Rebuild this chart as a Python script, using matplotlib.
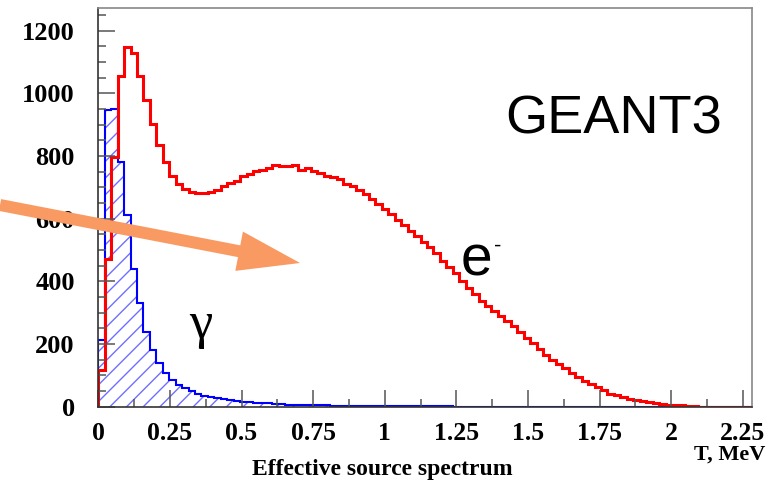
import numpy as np
import matplotlib
matplotlib.use("Agg")
import matplotlib.pyplot as plt
from matplotlib.patches import FancyArrow
from matplotlib.transforms import IdentityTransform

plt.rcParams['font.family'] = ['Liberation Serif', 'DejaVu Serif']
plt.rcParams['hatch.linewidth'] = 1.0

# histogram binning (MeV)
bin_width = 0.0225
n_bins = 102

# electron spectrum (red), counts per bin
electrons = [118, 470, 798, 1055, 1147, 1128, 1054, 979, 902, 836,
             782, 737, 710, 694, 686, 681, 681, 686, 692, 703,
             713, 719, 735, 742, 751, 756, 761, 772, 769, 769,
             772, 756, 761, 751, 745, 735, 733, 728, 712, 703,
             690, 677, 662, 648, 630, 614, 597, 580, 561, 544,
             526, 508, 490, 466, 445, 426, 400, 380, 358, 338,
             322, 305, 288, 272, 256, 238, 220, 202, 184, 166,
             150, 136, 122, 108, 94, 82, 72, 62, 52, 42,
             36, 30, 26, 22, 18, 15, 12, 9, 7, 5,
             4, 3, 1, 0, 0, 0, 0, 0, 0, 0,
             0, 0]

# gamma spectrum (blue, hatched)
gammas = [214, 945, 950, 782, 610, 440, 330, 238, 182, 139,
          107, 86, 70, 60, 49, 40, 35, 31, 27, 23,
          20, 17, 15, 14, 13, 12, 11, 9, 8, 7,
          6, 6, 5, 4, 4, 4, 3, 3, 3, 2,
          2, 2, 2, 2, 2, 2, 1, 1, 1, 1,
          1, 1, 1, 1, 1, 0, 0, 0, 0, 0,
          0, 0, 0, 0, 0, 0, 0, 0, 0, 0,
          0, 0, 0, 0, 0, 0, 0, 0, 0, 0,
          0, 0, 0, 0, 0, 0, 0, 0, 0, 0,
          0, 0, 0, 0, 0, 0, 0, 0, 0, 0,
          0, 0]

xticks = [0, 0.25, 0.5, 0.75, 1, 1.25, 1.5, 1.75, 2, 2.25]
xtick_labels = ["0", "0.25", "0.5", "0.75", "1", "1.25", "1.5", "1.75", "2", "2.25"]
yticks = [0, 200, 400, 600, 800, 1000, 1200]

edges = np.arange(n_bins + 1) * bin_width

fig = plt.figure(figsize=(7.8, 4.9), dpi=100)
ax = fig.add_axes([0.126, 0.170, 0.8385, 0.8137])

# gamma: hatched area + outline
ax.stairs(gammas, edges, fill=True, facecolor='none', edgecolor='#6f6fff',
          hatch='//', linewidth=0)
ax.stairs(gammas, edges, color='#0000ff', linewidth=1.5)
# electrons
ax.stairs(electrons, edges, color='#ff0000', linewidth=2.2)

ax.set_xlim(0, 2.283)
ax.set_ylim(0, 1272)

ax.set_xticks(xticks)
ax.set_xticklabels(xtick_labels)
ax.set_xticks(np.arange(0.125, 2.3, 0.25), minor=True)
ax.set_yticks(yticks)
ax.set_yticks(np.arange(0, 1272, 50), minor=True)

ax.tick_params(which='both', direction='in', color='#555555', width=1.1,
               top=False, right=False)
ax.tick_params(which='major', length=12)
ax.tick_params(which='minor', length=6)
ax.tick_params(axis='y', pad=17, labelsize=19)
ax.tick_params(axis='x', pad=11, labelsize=18.5)
for lab in ax.get_xticklabels() + ax.get_yticklabels():
    lab.set_fontweight('bold')

for s in ['left', 'bottom']:
    ax.spines[s].set_color('#333333')
    ax.spines[s].set_linewidth(1.2)
for s in ['top', 'right']:
    ax.spines[s].set_color('#888888')
    ax.spines[s].set_linewidth(1.2)

# annotations
fig.text(382 / 780, 1 - 469 / 490, "Effective source spectrum", ha='center',
         va='center', fontsize=17, fontweight='bold')
fig.text(765 / 780, 1 - 455 / 490, "T, MeV", ha='right', va='center',
         fontsize=16, fontweight='bold')
fig.text(505 / 780, 1 - 133 / 490, "GEANT3", ha='left', va='baseline',
         fontsize=39, family='Liberation Sans')
fig.text(461 / 780, 1 - 276 / 490, "e", ha='left', va='baseline',
         fontsize=41, family='Liberation Sans')
fig.text(494 / 780, 1 - 246 / 490, "-", ha='left', va='center',
         fontsize=16, family='Liberation Sans')
fig.text(201 / 780, 1 - 325 / 490, "\u03b3", ha='center', va='center',
         fontsize=38)

# orange arrow (pixel coordinates of the figure)
arrow = FancyArrow(0, 285, 300, -58, width=12, head_width=40, head_length=62,
                   length_includes_head=True, color='#f99a62', linewidth=0,
                   transform=IdentityTransform())
fig.add_artist(arrow)

fig.savefig("out.png", dpi=100)
